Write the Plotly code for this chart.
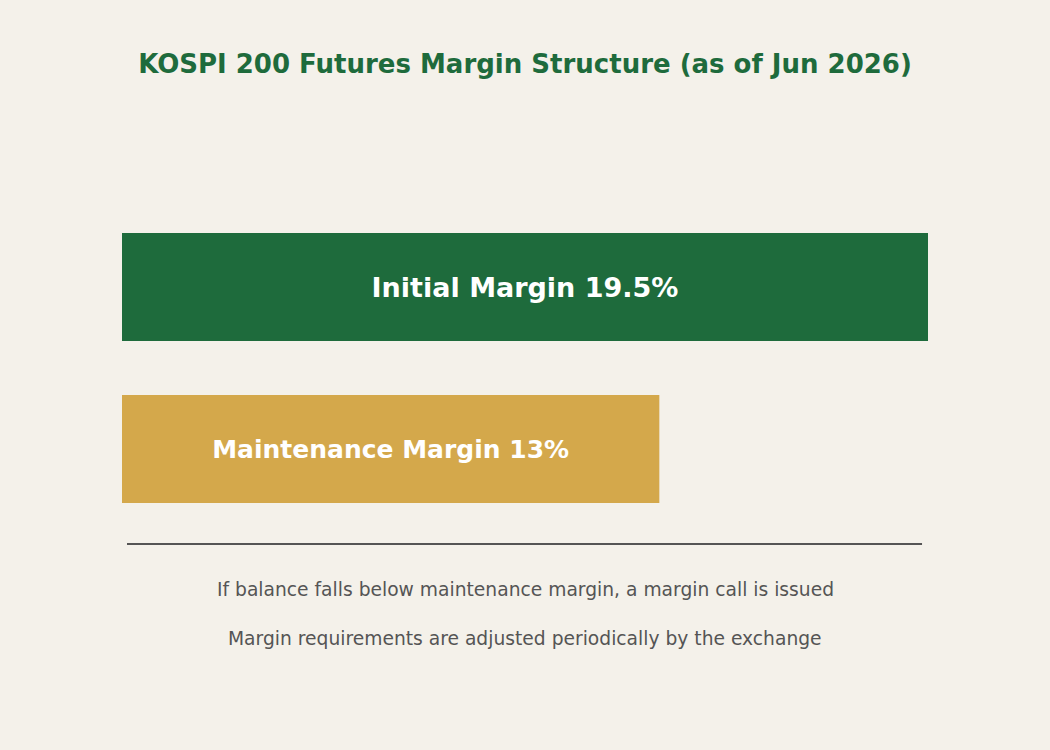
import plotly.graph_objects as go

categories = ["Maintenance Margin", "Initial Margin"]
values = [13, 19.5]
colors = ["#d4a84b", "#1e6b3c"]
label_sizes = [25, 27]
notes = [
    "If balance falls below maintenance margin, a margin call is issued",
    "Margin requirements are adjusted periodically by the exchange",
]
title = "KOSPI 200 Futures Margin Structure (as of Jun 2026)"

fig = go.Figure()
fig.add_trace(go.Bar(
    x=values,
    y=[0, 1],
    orientation="h",
    width=0.667,
    marker=dict(color=colors, line=dict(width=0)),
    customdata=categories,
    texttemplate="%{customdata} %{x}%",
    textposition="inside",
    insidetextanchor="middle",
    textfont=dict(family="DejaVu Sans", size=label_sizes, color="white", weight="bold"),
    hoverinfo="skip",
    showlegend=False,
))

fig.add_shape(type="line", xref="x domain", yref="paper",
              x0=0.0062, x1=0.9926, y0=-0.06, y1=-0.06,
              line=dict(color="#555555", width=2))

for i, t in enumerate(notes):
    fig.add_annotation(text=t, xref="paper", yref="paper", x=0.5,
                       y=[-0.1725, -0.295][i], xanchor="center", yanchor="middle",
                       showarrow=False,
                       font=dict(family="DejaVu Sans", size=18.7, color="#555555"))

fig.update_layout(
    width=1050, height=750,
    paper_bgcolor="#f4f1ea", plot_bgcolor="#f4f1ea",
    margin=dict(l=122, r=122, t=120, b=230),
    title=dict(text=title, x=0.5, xanchor="center", y=1 - 64 / 750, yanchor="middle",
               font=dict(family="DejaVu Sans", size=26, color="#1e6b3c", weight="bold")),
    xaxis=dict(range=[0, 19.5], visible=False, showgrid=False, zeroline=False),
    yaxis=dict(range=[-0.438, 2.031], visible=False, showgrid=False, zeroline=False),
    font=dict(family="DejaVu Sans"),
)

fig.write_html("out.html",
               config={"displayModeBar": False},
               post_script="document.body.style.margin='0';document.body.style.background='#f4f1ea';")
